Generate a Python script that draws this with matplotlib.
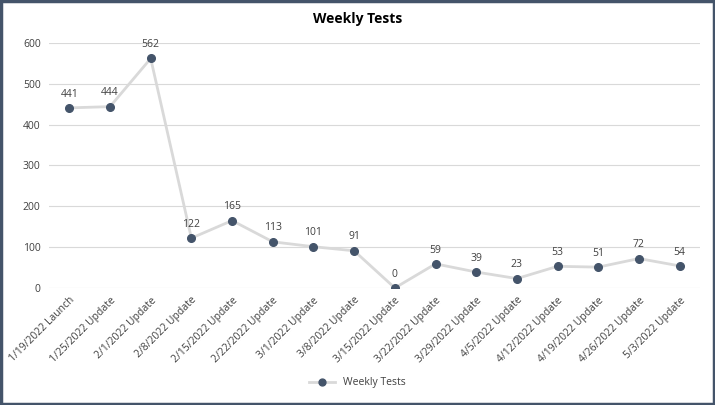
import matplotlib
matplotlib.use("Agg")
import matplotlib.pyplot as plt
from matplotlib.patches import Rectangle

categories = ["1/19/2022 Launch", "1/25/2022 Update", "2/1/2022 Update", "2/8/2022 Update",
              "2/15/2022 Update", "2/22/2022 Update", "3/1/2022 Update", "3/8/2022 Update",
              "3/15/2022 Update", "3/22/2022 Update", "3/29/2022 Update", "4/5/2022 Update",
              "4/12/2022 Update", "4/19/2022 Update", "4/26/2022 Update", "5/3/2022 Update"]
values = [441, 444, 562, 122, 165, 113, 101, 91, 0, 59, 39, 23, 53, 51, 72, 54]
yticks = [0, 100, 200, 300, 400, 500, 600]

plt.rcParams['font.family'] = ['Open Sans', 'DejaVu Sans']

fig = plt.figure(figsize=(7.15, 4.05), dpi=100)
ax = fig.add_axes([0.0685, 0.289, 0.9105, 0.605])

x = list(range(len(categories)))
ax.plot(x, values, color='#D9D9D9', linewidth=2.0, marker='o', markersize=5.5,
        markerfacecolor='#44546A', markeredgecolor='#44546A', label='Weekly Tests', zorder=3)
for xi, v in zip(x, values):
    ax.annotate(str(v), (xi, v), xytext=(0, 6), textcoords='offset points',
                ha='center', va='bottom', fontsize=7.5, color='#404040')

ax.set_xlim(-0.5, len(categories) - 0.5)
ax.set_ylim(0, 600)
ax.set_yticks(yticks)
ax.set_yticklabels([str(t) for t in yticks], fontsize=7.5, color='#404040')
ax.set_xticks(x)
ax.set_xticklabels(categories, rotation=45, ha='right', rotation_mode='anchor',
                   fontsize=7.5, color='#404040')
ax.tick_params(length=0, pad=6)
ax.tick_params(axis='x', pad=5)
ax.grid(axis='y', color='#D9D9D9', linewidth=0.8)
ax.set_axisbelow(True)
for s in ax.spines.values():
    s.set_visible(False)

fig.text(0.5, 0.952, 'Weekly Tests', ha='center', va='center', fontsize=10,
         fontweight='bold', color='#000000')

fig.legend(loc='center', bbox_to_anchor=(0.5, 0.055), frameon=False, fontsize=7.5,
           labelcolor='#404040', handlelength=2.5, markerscale=0.9)

fig.patches.append(Rectangle((0.002, 0.003), 0.996, 0.994, transform=fig.transFigure,
                             fill=False, edgecolor='#44546A', linewidth=2.5))

fig.savefig('out.png', dpi=100)
